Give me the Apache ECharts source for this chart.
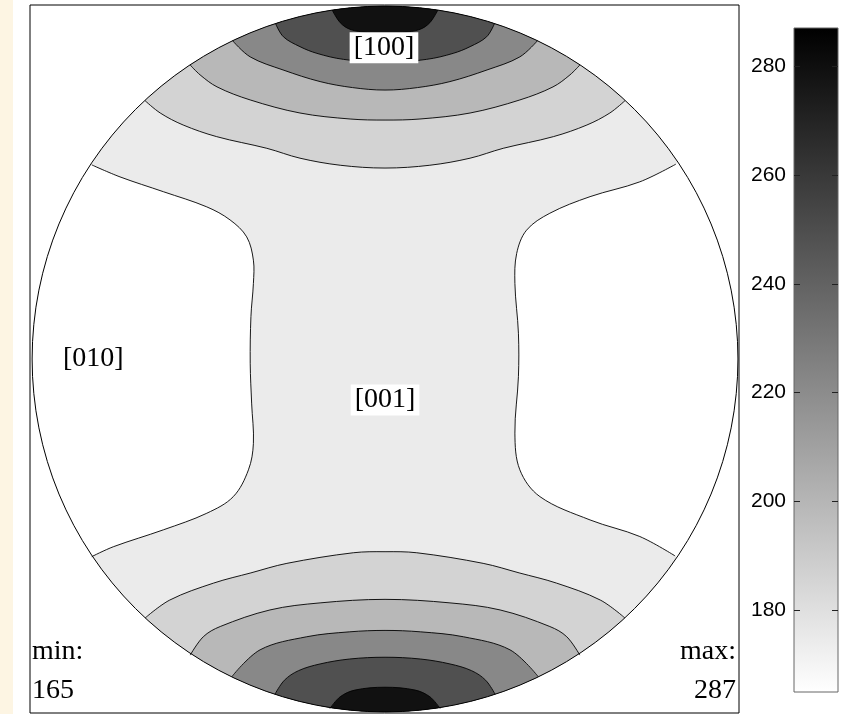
<!DOCTYPE html>
<html><head><meta charset="utf-8">
<script src="https://cdn.jsdelivr.net/npm/echarts@6/dist/echarts.min.js"></script>
<style>html,body{margin:0;padding:0;background:#fff}#c{width:858px;height:714px}</style>
</head><body><div id="c"></div>
<script>
// Pole figure in stereographic projection units (projection circle radius = 100)
// Contour lines, each running from one crossing with the circle to the other.
const whiteLeft  = [[-83.1,55.0],[-75.1,51.6],[-62.8,47.4],[-50.5,43.1],[-43.9,39.4],[-39.2,34.6],[-37.3,28.0],[-37.3,21.4],[-38.0,12.0],[-38.2,-1.2],[-37.8,-12.5],[-37.3,-23.9],[-38.7,-31.4],[-43.0,-39.0],[-50.5,-43.7],[-62.8,-48.4],[-77.0,-53.2],[-83.1,-56.0]];
const whiteRight = [[82.4,55.2],[72.2,50.2],[58.1,46.0],[46.7,41.3],[40.1,36.5],[37.3,29.9],[36.8,21.4],[37.8,7.3],[37.8,-5.0],[36.8,-21.0],[38.2,-31.4],[43.9,-39.0],[58.1,-45.6],[72.2,-50.3],[82.2,-55.8]];

const topC5 = [[-68.0,73.2],[-63.7,69.7],[-57.2,66.3],[-47.7,63.0],[-33.5,59.7],[-24.1,56.9],[-12.7,54.9],[0,54.1],[12.7,54.9],[24.1,56.9],[33.5,59.7],[47.7,63.0],[57.2,66.3],[63.7,69.7],[68.0,73.2]];
const topC4 = [[-55.2,83.3],[-52.4,80.5],[-47.6,77.1],[-38.2,73.4],[-24.1,69.7],[-9.9,68.0],[0,67.7],[9.9,68.0],[24.1,69.7],[38.2,73.4],[47.6,77.1],[52.4,80.5],[55.2,83.3]];
const topC3 = [[-43.2,90.2],[-38.2,85.6],[-28.9,81.9],[-18.4,78.6],[-9.2,76.9],[0,76.2],[9.2,76.9],[18.4,78.6],[28.9,81.9],[38.2,85.6],[43.2,90.2]];
const topC2 = [[-31.0,95.0],[-28.8,91.3],[-24.1,88.5],[-19.3,86.6],[-11.8,84.9],[0,84.0],[11.8,84.9],[19.3,86.6],[24.1,88.5],[28.8,91.3],[31.0,95.0]];
const topC1 = [[-15.0,98.9],[-12.7,95.3],[-9.9,93.4],[-5.0,92.5],[0,92.3],[5.0,92.5],[9.9,93.4],[12.7,95.3],[15.0,98.9]];

const botC5 = [[-68.0,-73.4],[-61.0,-68.3],[-48.6,-63.5],[-38.0,-60.6],[-27.8,-57.9],[-9.0,-54.9],[0,-54.6],[9.0,-54.9],[27.8,-57.9],[38.0,-60.6],[48.6,-63.5],[61.0,-68.3],[68.0,-73.4]];
const botC4 = [[-55.2,-83.9],[-51.5,-78.7],[-46.7,-75.8],[-32.6,-71.1],[-18.4,-69.1],[0,-68.1],[18.4,-69.1],[32.6,-71.1],[46.7,-75.8],[51.5,-78.7],[55.2,-83.9]];
const botC3 = [[-43.4,-90.0],[-35.4,-82.4],[-22.2,-78.7],[-10.0,-77.3],[0,-76.9],[10.0,-77.3],[22.2,-78.7],[35.4,-82.4],[43.4,-90.0]];
const botC2 = [[-31.2,-95.0],[-28.5,-91.0],[-24.5,-88.3],[-18.4,-86.4],[-10.0,-85.0],[0,-84.5],[10.0,-85.0],[18.4,-86.4],[24.5,-88.3],[28.5,-91.0],[31.2,-95.0]];
const botC1 = [[-15.6,-99.0],[-12.7,-95.7],[-8.5,-93.8],[0,-93.0],[8.5,-93.8],[12.7,-95.7],[15.6,-99.0]];

// Colour scale
const cbMin = 165, cbMax = 287;
const cbTicks = [180, 200, 220, 240, 260, 280];

// Crystal direction labels: [text, x, y]
const dirLabels = [['[100]', -0.3, 88.2], ['[001]', 0, -11.6], ['[010]', -92.4, 0]];

// ---- styling (not data) ----
const bandFill = ['#ebebeb', '#ffffff', '#d3d3d3', '#b8b8b8', '#888888', '#505050', '#111111'];
const layers = [
  {curve: whiteLeft, band: 1}, {curve: whiteRight, band: 1},
  {curve: topC5, band: 2}, {curve: botC5, band: 2},
  {curve: topC4, band: 3}, {curve: botC4, band: 3},
  {curve: topC3, band: 4}, {curve: botC3, band: 4},
  {curve: topC2, band: 5}, {curve: botC2, band: 5},
  {curve: topC1, band: 6}, {curve: botC1, band: 6}
];
const R = 100;
const SM = 0.35;
const serif = '28px "Liberation Serif", "Times New Roman", serif';

function capPoints(curve, api) {
  const pts = curve.map(p => api.coord(p));
  const last = curve[curve.length - 1], first = curve[0];
  const a1 = Math.atan2(last[1], last[0]);
  const a0 = Math.atan2(first[1], first[0]);
  let d = a0 - a1;
  while (d > Math.PI) d -= 2 * Math.PI;
  while (d < -Math.PI) d += 2 * Math.PI;
  const N = 60;
  for (let k = 0; k <= N; k++) {
    const a = a1 + d * k / N;
    pts.push(api.coord([R * Math.cos(a), R * Math.sin(a)]));
  }
  return pts;
}

const chart = echarts.init(document.getElementById('c'), null, {renderer: 'canvas'});
chart.setOption({
  animation: false,
  backgroundColor: '#ffffff',
  graphic: [
    {type: 'rect', left: 0, top: 0, shape: {width: 13, height: 714}, style: {fill: '#fdf5e3'}, z: -5},
    {type: 'text', left: 32, top: 638, style: {text: 'min:', font: serif, fill: '#000'}},
    {type: 'text', left: 32, top: 677, style: {text: String(cbMin), font: serif, fill: '#000'}},
    {type: 'text', right: 858 - 736, top: 638, style: {text: 'max:', font: serif, fill: '#000'}},
    {type: 'text', right: 858 - 736, top: 677, style: {text: String(cbMax), font: serif, fill: '#000'}}
  ],
  grid: [
    {left: 30, top: 5, width: 709, height: 708, show: true, borderColor: '#000', borderWidth: 1, backgroundColor: 'transparent'},
    {left: 794, top: 28, width: 44, height: 664, show: false}
  ],
  xAxis: [
    {gridIndex: 0, type: 'value', min: -100.6, max: 100.3, show: false},
    {gridIndex: 1, type: 'value', min: 0, max: 1, show: false}
  ],
  yAxis: [
    {gridIndex: 0, type: 'value', min: -100.3, max: 100.3, show: false},
    {gridIndex: 1, type: 'value', min: cbMin, max: cbMax, position: 'left',
     axisLine: {show: false}, splitLine: {show: false},
     axisTick: {show: true, inside: true, length: 6, customValues: cbTicks, lineStyle: {color: '#222', width: 1}},
     axisLabel: {show: true, customValues: cbTicks, margin: 8, fontSize: 21, fontFamily: '"Liberation Sans", Arial, sans-serif', color: '#000'}},
    {gridIndex: 1, type: 'value', min: cbMin, max: cbMax, position: 'right',
     axisLine: {show: false}, splitLine: {show: false},
     axisTick: {show: true, inside: true, length: 6, customValues: cbTicks, lineStyle: {color: '#222', width: 1}},
     axisLabel: {show: false}}
  ],
  series: [
    { // base disk
      type: 'custom', xAxisIndex: 0, yAxisIndex: 0, clip: false, z: 2,
      data: [[0, 0]],
      renderItem: (params, api) => {
        const c = api.coord([0, 0]);
        const r = api.coord([R, 0])[0] - c[0];
        return {type: 'circle', shape: {cx: c[0], cy: c[1], r: r}, style: {fill: bandFill[0], stroke: null}};
      }
    },
    { // contour bands
      type: 'custom', xAxisIndex: 0, yAxisIndex: 0, clip: false, z: 3,
      data: layers.map((l, i) => [0, 0, i]),
      renderItem: (params, api) => {
        const L = layers[params.dataIndex];
        const poly = capPoints(L.curve, api);
        const line = L.curve.map(p => api.coord(p));
        return {type: 'group', children: [
          {type: 'polygon', shape: {points: poly, smooth: SM}, style: {fill: bandFill[L.band], stroke: null}},
          {type: 'polyline', shape: {points: line, smooth: SM}, style: {fill: null, stroke: '#000', lineWidth: 0.9}}
        ]};
      }
    },
    { // circle outline
      type: 'custom', xAxisIndex: 0, yAxisIndex: 0, clip: false, z: 4,
      data: [[0, 0]],
      renderItem: (params, api) => {
        const c = api.coord([0, 0]);
        const r = api.coord([R, 0])[0] - c[0];
        return {type: 'circle', shape: {cx: c[0], cy: c[1], r: r}, style: {fill: null, stroke: '#000', lineWidth: 1}};
      }
    },
    { // direction labels
      type: 'custom', xAxisIndex: 0, yAxisIndex: 0, clip: false, z: 5,
      data: dirLabels.map(d => [d[1], d[2]]),
      renderItem: (params, api) => {
        const d = dirLabels[params.dataIndex];
        const p = api.coord([d[1], d[2]]);
        const left = d[1] < -50;
        return {type: 'text', x: p[0], y: p[1], style: {
          text: d[0], font: serif, fill: '#000',
          align: left ? 'left' : 'center', verticalAlign: 'middle',
          backgroundColor: '#fff', padding: [2, 4, 1, 4]
        }};
      }
    },
    { // colour bar
      type: 'custom', xAxisIndex: 1, yAxisIndex: 1, clip: false, z: -1,
      data: [[0, cbMin, 1, cbMax]],
      renderItem: (params, api) => {
        const p0 = api.coord([api.value(0), api.value(3)]);
        const p1 = api.coord([api.value(2), api.value(1)]);
        return {type: 'rect', shape: {x: p0[0], y: p0[1], width: p1[0] - p0[0], height: p1[1] - p0[1]},
          style: {fill: new echarts.graphic.LinearGradient(0, 0, 0, 1, [{offset: 0, color: '#000'}, {offset: 1, color: '#fff'}]),
                  stroke: '#666', lineWidth: 1}};
      }
    }
  ]
});
</script></body></html>
